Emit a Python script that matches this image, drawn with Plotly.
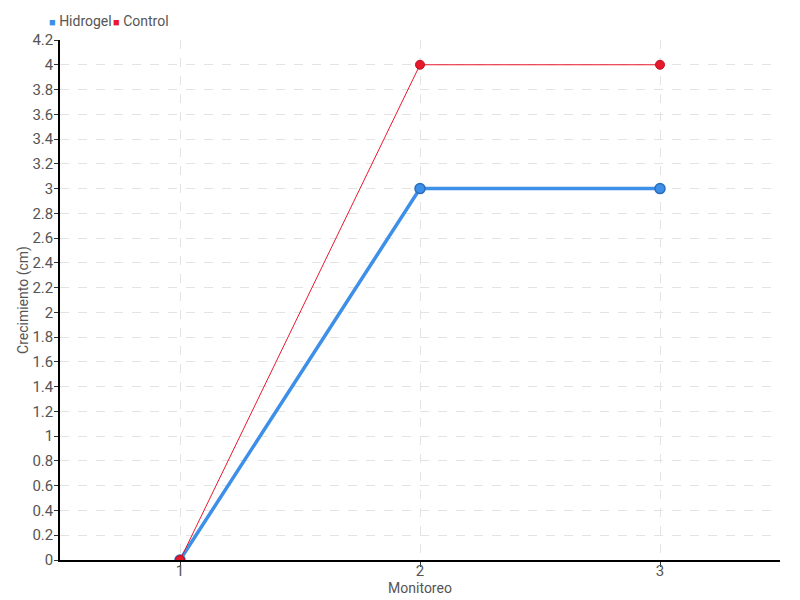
import plotly.graph_objects as go

monitoreo = [1, 2, 3]
hidrogel = [0, 3, 3]
control = [0, 4, 4]
series_names = ["Hidrogel", "Control"]
y_ticks = [round(i * 0.2, 1) for i in range(22)]
y_labels = [("%g" % v) for v in y_ticks]

FONT = "Roboto, sans-serif"
BLUE = "#3d8fe8"
RED = "#e8192c"
TXT = "#555555"

fig = go.Figure()
fig.add_trace(go.Scatter(
    x=monitoreo, y=hidrogel, name=series_names[0], mode="lines+markers",
    line=dict(color=BLUE, width=3.5),
    marker=dict(size=10, color=BLUE, line=dict(color="#2a6fc0", width=1.5)),
))
fig.add_trace(go.Scatter(
    x=monitoreo, y=control, name=series_names[1], mode="lines+markers",
    line=dict(color=RED, width=1),
    marker=dict(size=9, color=RED, line=dict(color="#c01020", width=1)),
))

# compact legend (square swatch + label), placed above the plot area
legend_x = [-13 / 720, 51 / 720]
for name, col, lx in zip(series_names, [BLUE, RED], legend_x):
    fig.add_annotation(
        x=lx, y=1 + 19 / 520, xref="paper", yref="paper",
        xanchor="left", yanchor="middle", showarrow=False,
        text=f"<span style='color:{col};font-size:11px'>■</span> {name}",
        font=dict(family=FONT, size=14, color=TXT),
    )

fig.update_layout(
    width=800, height=600,
    margin=dict(l=60, r=20, t=40, b=40, autoexpand=False),
    plot_bgcolor="white", paper_bgcolor="white",
    font=dict(family=FONT, size=14, color=TXT),
    showlegend=False,
    xaxis=dict(
        range=[0.5, 3.5], tickvals=monitoreo, ticktext=[str(v) for v in monitoreo],
        showline=True, linecolor="black", linewidth=1.5,
        ticks="outside", ticklen=5, tickcolor="#333333",
        showgrid=True, gridcolor="#e3e3e3", griddash="dash", zeroline=False,
        title=dict(text="Monitoreo", standoff=0, font=dict(size=14)),
        tickfont=dict(size=15), ticklabelstandoff=-9, automargin=False,
    ),
    yaxis=dict(
        range=[0, 4.2], tickvals=y_ticks, ticktext=y_labels,
        showline=True, linecolor="black", linewidth=1.5,
        ticks="outside", ticklen=4, tickcolor="#333333",
        showgrid=True, gridcolor="#e3e3e3", griddash="dash", zeroline=False,
        title=dict(text="Crecimiento (cm)", standoff=0, font=dict(size=14)),
        tickfont=dict(size=15), ticklabelstandoff=-2, automargin=False,
    ),
)

fig.write_html("out.html", config={"displayModeBar": False},
               post_script="document.body.style.margin='0';")
